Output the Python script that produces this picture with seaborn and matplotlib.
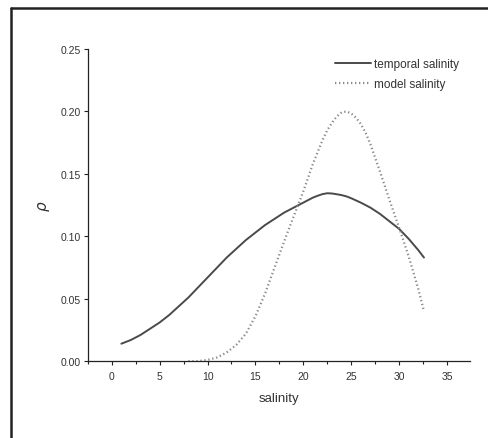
import matplotlib
matplotlib.use("Agg")
import matplotlib.pyplot as plt
import seaborn as sns
import pandas as pd
from matplotlib.lines import Line2D
from matplotlib.ticker import MultipleLocator

# Data
temporal_x = [1, 2, 3, 4, 5, 6, 7, 8, 9, 10, 11, 12, 13, 14, 15, 16, 17, 18, 19, 20,
              20.5, 21, 21.5, 22, 22.5, 23, 23.5, 24, 24.5, 25, 26, 27, 28, 29, 30,
              31, 32, 32.6]
temporal_y = [0.014, 0.017, 0.021, 0.026, 0.031, 0.037, 0.044, 0.051, 0.059, 0.067,
              0.075, 0.083, 0.090, 0.097, 0.103, 0.109, 0.114, 0.119, 0.123, 0.127,
              0.129, 0.131, 0.1325, 0.1338, 0.1345, 0.1343, 0.1337, 0.133, 0.132,
              0.1305, 0.127, 0.123, 0.118, 0.112, 0.106, 0.098, 0.089, 0.083]
model_x = [8, 9, 10, 11, 12, 13, 14, 15, 16, 17, 18, 19, 20, 21, 22, 22.5, 23, 23.5,
           24, 24.5, 25, 25.5, 26, 26.5, 27, 28, 29, 30, 31, 32, 32.6]
model_y = [0.000, 0.000, 0.001, 0.003, 0.007, 0.013, 0.022, 0.036, 0.054, 0.075,
           0.096, 0.116, 0.136, 0.158, 0.177, 0.185, 0.191, 0.196, 0.1993, 0.2,
           0.1985, 0.195, 0.190, 0.183, 0.174, 0.152, 0.129, 0.107, 0.084, 0.058,
           0.040]
series_names = ["temporal salinity", "model salinity"]
x_ticks = [0, 5, 10, 15, 20, 25, 30, 35]
y_ticks = [0.00, 0.05, 0.10, 0.15, 0.20, 0.25]

sns.set_theme(style="ticks")
plt.rcParams['font.family'] = ['Liberation Sans', 'DejaVu Sans']

df_t = pd.DataFrame({"salinity": temporal_x, "p": temporal_y})
df_m = pd.DataFrame({"salinity": model_x, "p": model_y})

fig = plt.figure(figsize=(4.88, 4.39), dpi=100)
ax = fig.add_axes([0.180, 0.175, 0.783, 0.711])

sns.lineplot(data=df_t, x="salinity", y="p", ax=ax, color="#4a4a4a", lw=1.4,
             label=series_names[0])
sns.lineplot(data=df_m, x="salinity", y="p", ax=ax, color="#8a8a8a", lw=1.6,
             linestyle=(0, (0.6, 1.2)), label=series_names[1])

ax.set_xlim(-2.5, 37.4)
ax.set_ylim(0, 0.25)
ax.set_xticks(x_ticks)
ax.set_xticklabels([str(v) for v in x_ticks])
ax.xaxis.set_minor_locator(MultipleLocator(2.5))
ax.set_yticks(y_ticks)
ax.set_yticklabels([f"{v:.2f}" for v in y_ticks])
ax.tick_params(axis="both", which="major", labelsize=7.5, length=3, width=0.8,
               color="#222222", labelcolor="#333333", pad=2)
ax.tick_params(axis="x", which="major", pad=4)
ax.tick_params(axis="x", which="minor", length=2, width=0.8, color="#222222")
for s in ["top", "right"]:
    ax.spines[s].set_visible(False)
for s in ["left", "bottom"]:
    ax.spines[s].set_color("#222222")
    ax.spines[s].set_linewidth(0.9)

ax.set_xlabel("salinity", fontsize=9.5, color="#333333", labelpad=8)
ax.set_ylabel(r"$\rho$", fontsize=11, color="#333333", labelpad=6)

leg = ax.legend(loc="upper right", bbox_to_anchor=(1.0, 1.005), frameon=False,
                fontsize=8.5, handlelength=3.0, handletextpad=0.3, labelspacing=0.7)
for t in leg.get_texts():
    t.set_color("#333333")

# scanned frame border
fig.add_artist(Line2D([11/488, 1.0], [1 - 9/439, 1 - 9/439], transform=fig.transFigure,
                      color="#222222", lw=1.8))
fig.add_artist(Line2D([11/488, 11/488], [0, 1 - 9/439], transform=fig.transFigure,
                      color="#222222", lw=1.8))

fig.savefig("out.png", dpi=100)
